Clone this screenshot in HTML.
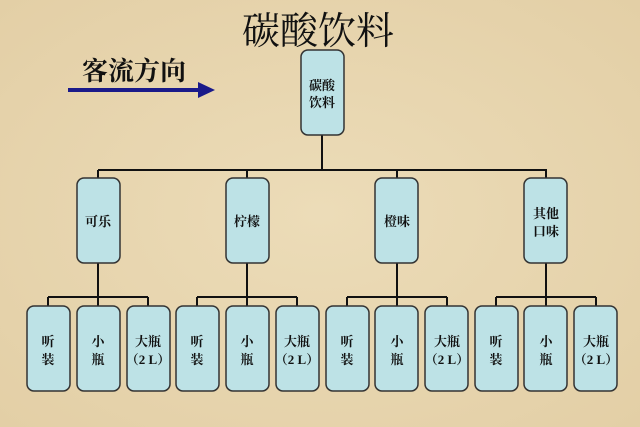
<!DOCTYPE html>
<html><head><meta charset="utf-8"><style>
html,body{margin:0;padding:0}
body{width:640px;height:427px;overflow:hidden;background:#e8d7b2;}
svg{display:block}
text{font-family:"Liberation Serif","Noto Serif CJK SC",serif;}
</style></head><body>
<svg width="640" height="427" viewBox="0 0 640 427" xmlns="http://www.w3.org/2000/svg">
<defs>
<radialGradient id="bg" cx="50%" cy="50%" r="70%"><stop offset="0" stop-color="#ecdcb8"/><stop offset="1" stop-color="#e3cfa6"/></radialGradient>
</defs>
<rect width="640" height="427" fill="url(#bg)"/>
<text x="318" y="44" font-size="38" text-anchor="middle" fill="#111">碳酸饮料</text>
<text x="82" y="80" font-size="26" font-weight="bold" fill="#111" font-family="'Noto Serif CJK SC',serif">客流方向</text>
<line x1="68" y1="90" x2="200" y2="90" stroke="#1a1a8a" stroke-width="4"/>
<polygon points="198,82 215,90 198,98" fill="#1a1a8a"/>
<g stroke="#111" stroke-width="2" fill="none">
<line x1="322" y1="135" x2="322" y2="170"/>
<line x1="98" y1="170" x2="547" y2="170"/>
<line x1="98" y1="170" x2="98" y2="178"/><line x1="247" y1="170" x2="247" y2="178"/><line x1="397" y1="170" x2="397" y2="178"/><line x1="546" y1="170" x2="546" y2="178"/>
<line x1="98" y1="263" x2="98" y2="306"/><line x1="48" y1="297" x2="148" y2="297"/><line x1="48" y1="297" x2="48" y2="306"/><line x1="148" y1="297" x2="148" y2="306"/>
<line x1="247" y1="263" x2="247" y2="306"/><line x1="197" y1="297" x2="297" y2="297"/><line x1="197" y1="297" x2="197" y2="306"/><line x1="297" y1="297" x2="297" y2="306"/>
<line x1="397" y1="263" x2="397" y2="306"/><line x1="347" y1="297" x2="447" y2="297"/><line x1="347" y1="297" x2="347" y2="306"/><line x1="447" y1="297" x2="447" y2="306"/>
<line x1="546" y1="263" x2="546" y2="306"/><line x1="496" y1="297" x2="596" y2="297"/><line x1="496" y1="297" x2="496" y2="306"/><line x1="596" y1="297" x2="596" y2="306"/>
</g>
<g fill="#bde2e6" stroke="#333" stroke-width="1.5">
<rect x="301" y="50" width="43" height="85" rx="7"/>
<rect x="77" y="178" width="43" height="85" rx="7"/>
<rect x="226" y="178" width="43" height="85" rx="7"/>
<rect x="375" y="178" width="43" height="85" rx="7"/>
<rect x="524" y="178" width="43" height="85" rx="7"/>
<rect x="27" y="306" width="43" height="85" rx="7"/><rect x="77" y="306" width="43" height="85" rx="7"/><rect x="127" y="306" width="43" height="85" rx="7"/>
<rect x="176" y="306" width="43" height="85" rx="7"/><rect x="226" y="306" width="43" height="85" rx="7"/><rect x="276" y="306" width="43" height="85" rx="7"/>
<rect x="326" y="306" width="43" height="85" rx="7"/><rect x="375" y="306" width="43" height="85" rx="7"/><rect x="425" y="306" width="43" height="85" rx="7"/>
<rect x="475" y="306" width="43" height="85" rx="7"/><rect x="524" y="306" width="43" height="85" rx="7"/><rect x="574" y="306" width="43" height="85" rx="7"/>
</g>
<g font-size="13" fill="#111" text-anchor="middle" font-weight="bold" font-family="'Noto Serif CJK SC',serif">
<text x="322" y="90">碳酸</text><text x="322" y="107">饮料</text>
<text x="98" y="226">可乐</text><text x="247" y="226">柠檬</text><text x="397" y="226">橙味</text>
<text x="546" y="218">其他</text><text x="546" y="236">口味</text>
<g id="g1">
<text x="48" y="346">听</text><text x="48" y="364">装</text>
<text x="98" y="346">小</text><text x="98" y="364">瓶</text>
<text x="148" y="346">大瓶</text><text x="148" y="364">（2 L）</text>
</g>
<use href="#g1" x="149"/><use href="#g1" x="299"/><use href="#g1" x="448"/>
</g>
</svg>
</body></html>
